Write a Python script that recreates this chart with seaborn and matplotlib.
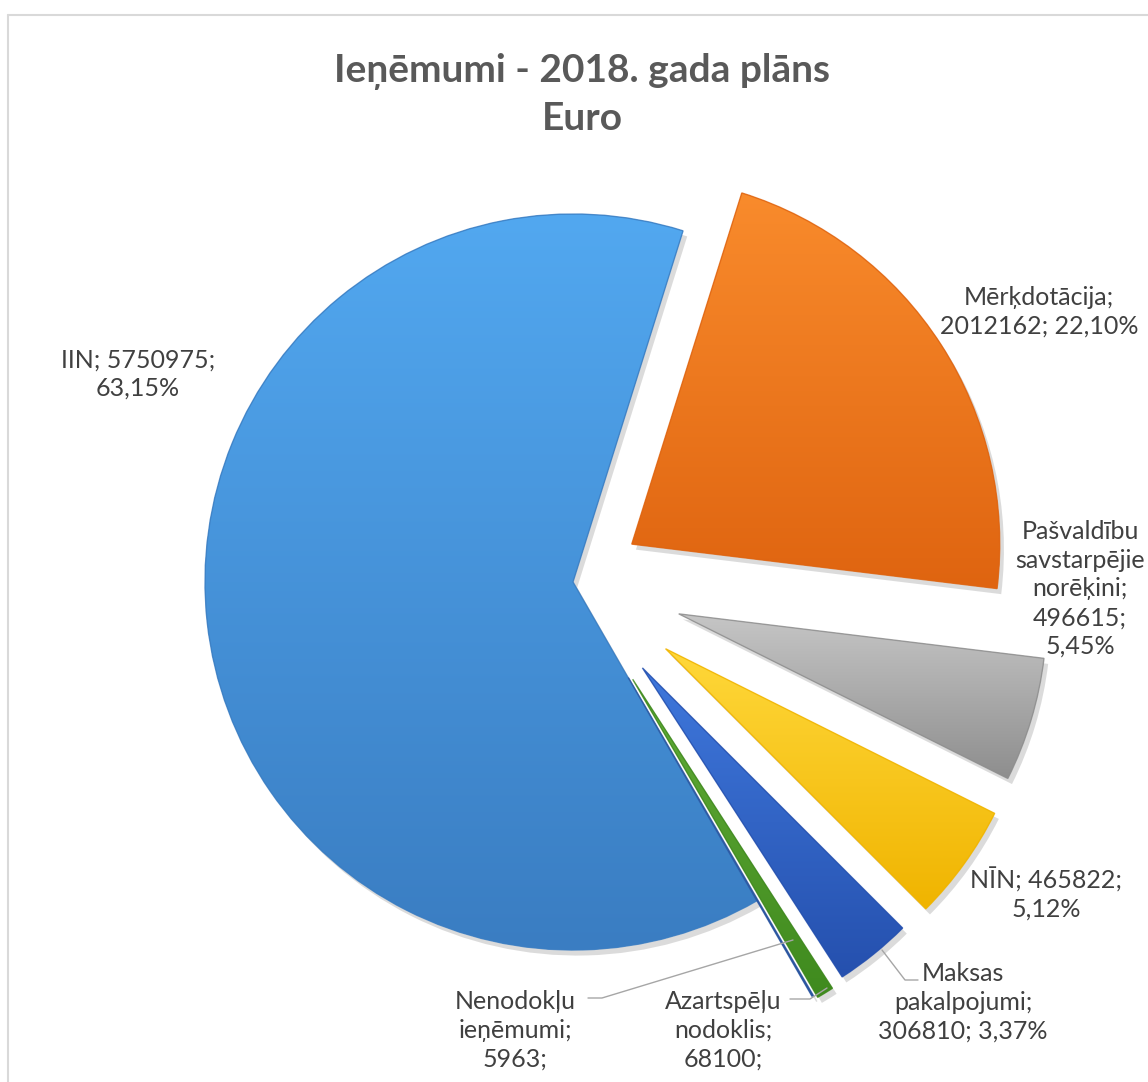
import numpy as np
import pandas as pd
import matplotlib
matplotlib.use("Agg")
import matplotlib.pyplot as plt
import matplotlib.patheffects as pe
from matplotlib.colors import LinearSegmentedColormap
from matplotlib.lines import Line2D
from matplotlib.patches import PathPatch
import seaborn as sns

# ---------------- data ----------------
categories = ["IIN", "Mērķdotācija", "Pašvaldību savstarpējie norēķini", "NĪN",
              "Maksas pakalpojumi", "Azartspēļu nodoklis", "Nenodokļu ieņēmumi"]
values = [5750975, 2012162, 496615, 465822, 306810, 68100, 5963]
label_names = ["IIN", "Mērķdotācija", "Pašvaldību\nsavstarpējie\nnorēķini", "NĪN",
               "Maksas\npakalpojumi", "Azartspēļu\nnodoklis", "Nenodokļu\nieņēmumi"]
title_lines = ["Ieņēmumi - 2018. gada plāns", "Euro"]

# ---------------- styles ----------------
sep_name = ["; ", ";\n", ";\n", "; ", ";\n", ";\n", ";\n"]
sep_value = [";\n", "; ", ";\n", ";\n", "; ", None, None]   # None: percentage cut off by the frame
grad_top = ["#52A8F0", "#F98B2C", "#C6C6C6", "#FFD83A", "#3F78DC", "#62AC38", "#3A6FC0"]
grad_bot = ["#3A7DC2", "#DF6410", "#8E8E8E", "#F0B400", "#2550AE", "#3F8A1E", "#2A55A0"]
explode = [0.0, 0.19, 0.30, 0.31, 0.30, 0.31, 0.30]

sns.set_theme(style="white")
plt.rcParams["font.family"] = ["Lato", "DejaVu Sans"]

W, H = 1148, 1082
CX, CY, R = 573, 582, 368          # pie centre / radius in pixels


def px(x, y):
    return ((x - CX) / R, (CY - y) / R)


df = pd.DataFrame({"category": categories, "value": values})
df["pct"] = df["value"] / df["value"].sum() * 100

fig = plt.figure(figsize=(W / 100, H / 100), dpi=100)
ax = fig.add_axes([0, 0, 1, 1])

# start angle so that the first slice (IIN) ends at ~17 deg clockwise from top
start = 90 - (17.4 + 360 * (1 - df["pct"].iloc[0] / 100))
wedges, _ = ax.pie(df["value"], explode=explode, colors=grad_bot, startangle=start,
                   counterclock=False, radius=1.0, center=(0, 0),
                   wedgeprops=dict(linewidth=0))

grad = np.linspace(0, 1, 256).reshape(-1, 1)
for w, ct, cb in zip(wedges, grad_top, grad_bot):
    w.set_path_effects([pe.SimplePatchShadow(offset=(3, -4), shadow_rgbFace="#9a9a9a", alpha=0.35),
                        pe.Normal()])
    ext = w.get_path().get_extents()
    cmap = LinearSegmentedColormap.from_list("g", [cb, ct])
    im = ax.imshow(grad, extent=[ext.x0, ext.x1, ext.y0, ext.y1], origin="lower",
                   cmap=cmap, aspect="auto", interpolation="bicubic", zorder=2)
    im.set_clip_path(w)
    ax.add_patch(PathPatch(w.get_path(), fill=False, edgecolor=cb, linewidth=1.0,
                           alpha=0.8, zorder=3))

ax.set_xlim(-CX / R, (W - CX) / R)
ax.set_ylim(-(H - CY) / R, CY / R)
ax.set_axis_off()

# ---------------- data labels ----------------
label_pos = [(138, 374), (1039, 312), (1080, 589), (1046, 894),
             (963, 1002), (723, 1030), (515, 1030)]
for i, row in df.iterrows():
    pct_txt = f"{row['pct']:.2f}".replace(".", ",") + "%"
    txt = label_names[i] + sep_name[i] + str(row["value"])
    if sep_value[i] is not None:
        txt += sep_value[i] + pct_txt
    else:
        txt += ";"
    x, y = px(*label_pos[i])
    ax.text(x, y, txt, ha="center", va="center", multialignment="center",
            fontsize=18, color="#404040", linespacing=1.3, zorder=5)

# leader lines
leaders = [
    [(882, 950), (905, 980), (918, 980)],
    [(790, 999), (810, 999), (827, 988)],
    [(588, 998), (602, 998), (793, 940)],
]
for pts in leaders:
    xs, ys = zip(*[px(*p) for p in pts])
    ax.add_line(Line2D(xs, ys, color="#A6A6A6", linewidth=1.0, zorder=4))

# ---------------- title ----------------
fig.text(582 / W, 1 - 72 / H, title_lines[0], ha="center", va="center",
         fontsize=28, fontweight="bold", color="#595959")
fig.text(582 / W, 1 - 118 / H, title_lines[1], ha="center", va="center",
         fontsize=28, fontweight="bold", color="#595959")

# chart-area frame (top and left edges visible)
fig.add_artist(Line2D([8 / W, 1], [1 - 15 / H, 1 - 15 / H], transform=fig.transFigure,
                      color="#D9D9D9", linewidth=1.5))
fig.add_artist(Line2D([8 / W, 8 / W], [0, 1 - 15 / H], transform=fig.transFigure,
                      color="#D9D9D9", linewidth=1.5))

fig.savefig("out.png", dpi=100, facecolor="white")
